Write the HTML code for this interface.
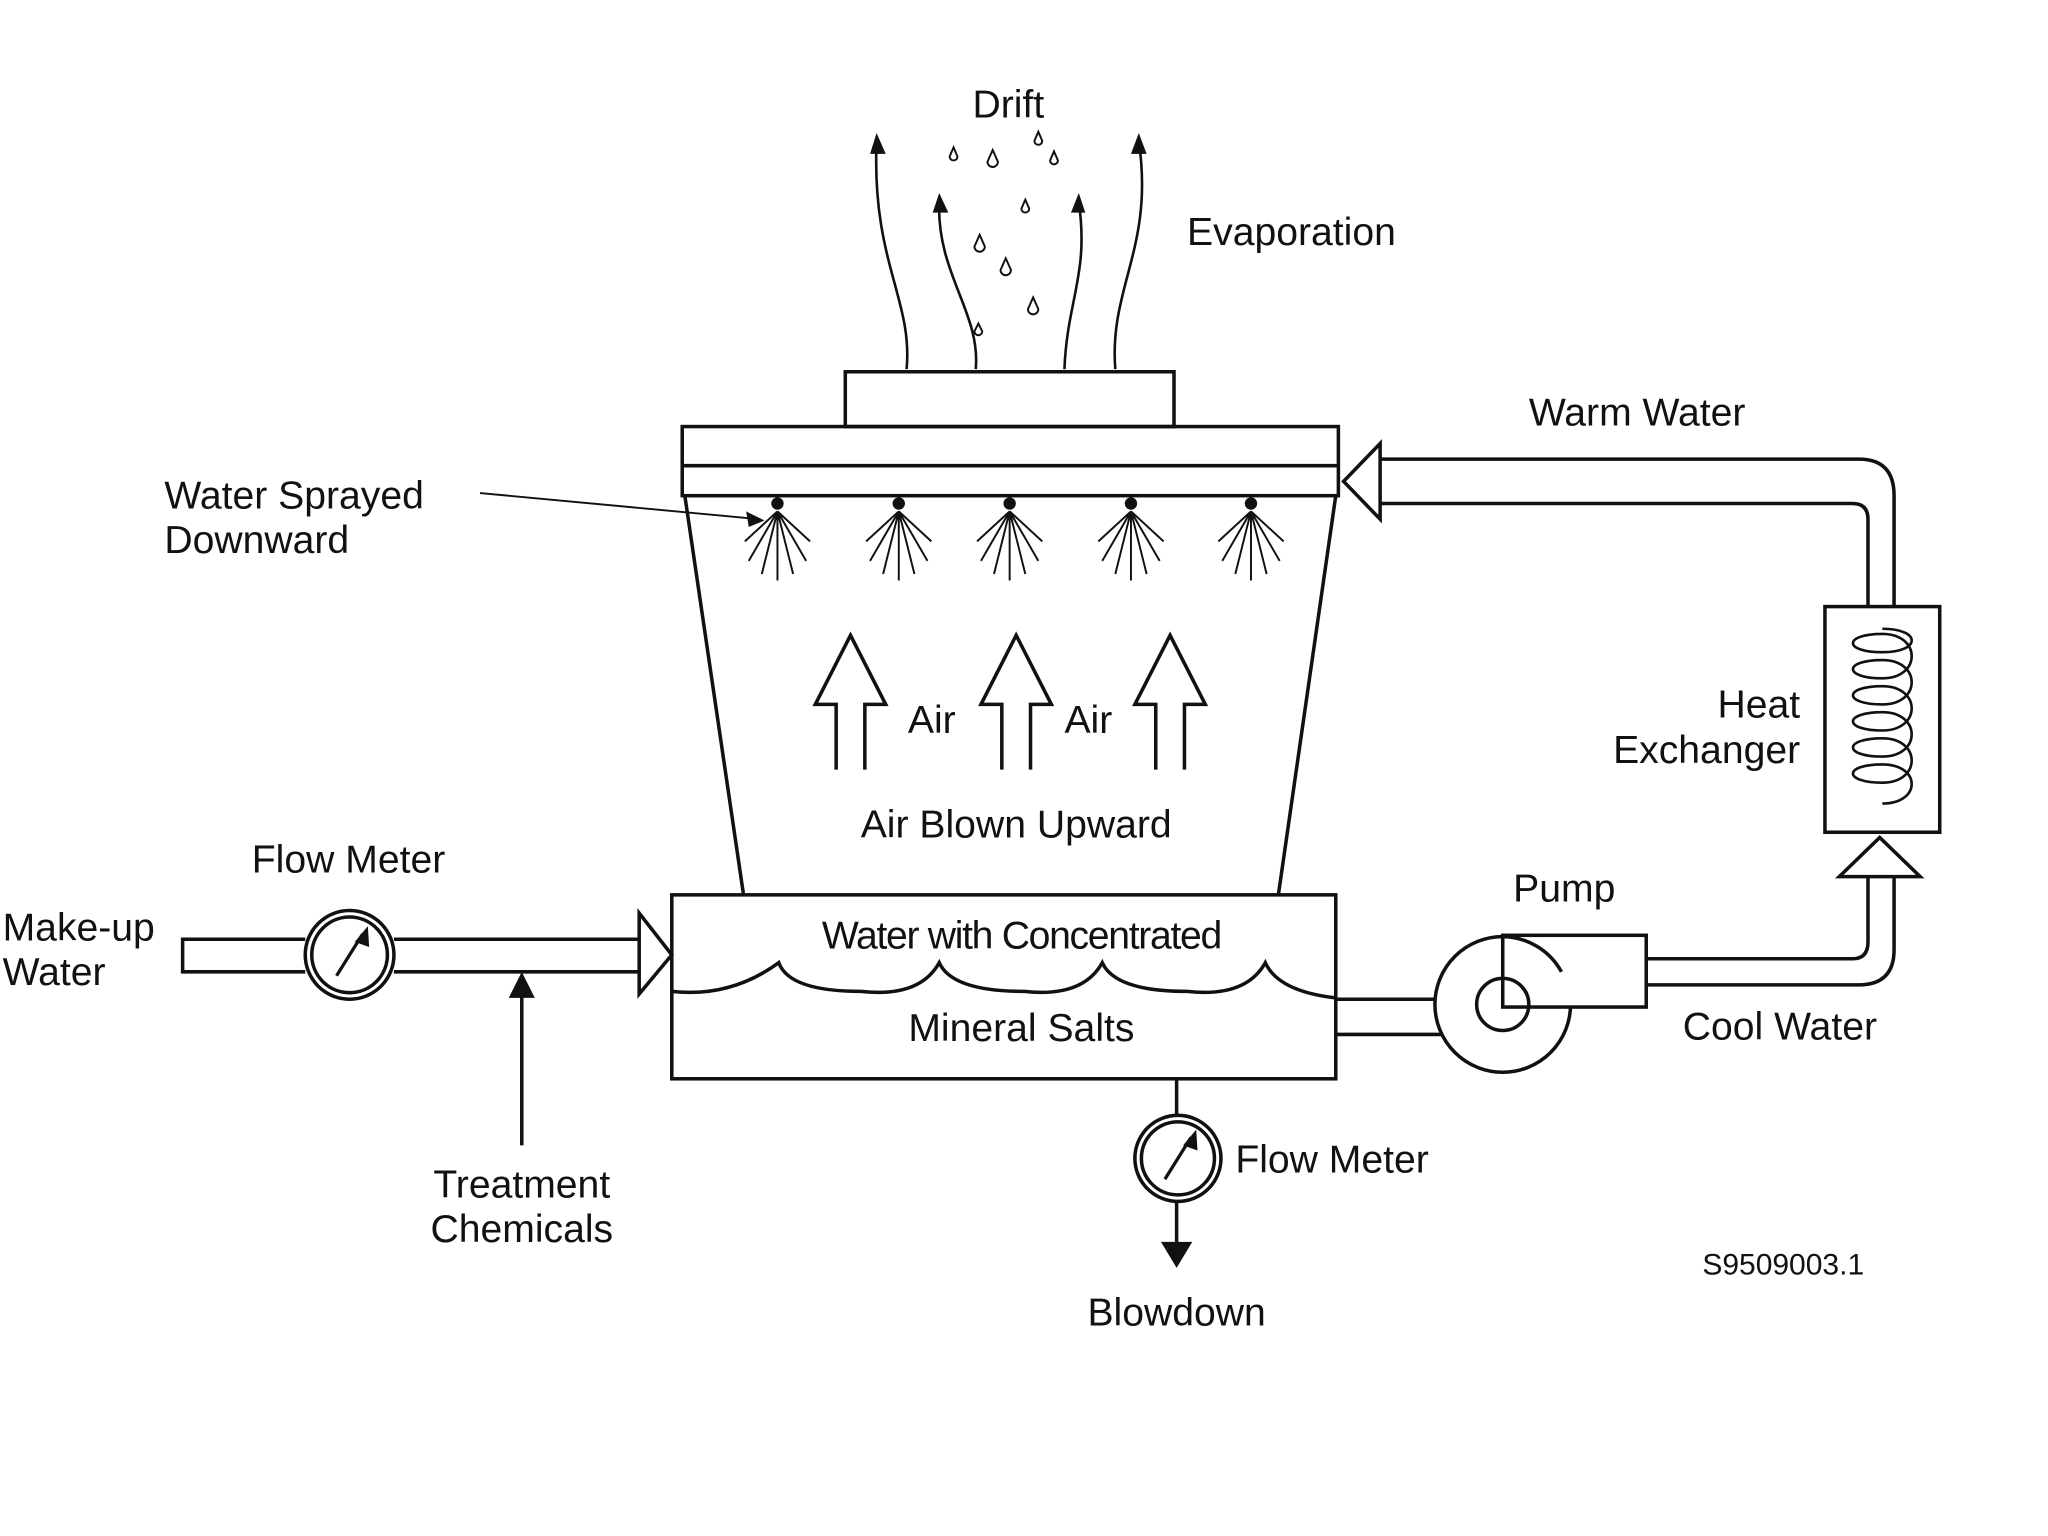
<!DOCTYPE html>
<html><head><style>html,body{margin:0;padding:0;background:#fff}svg{display:block}
text{font-family:"Liberation Sans",Arial,sans-serif;fill:#111}</style></head>
<body>
<svg width="2048" height="1536" viewBox="0 0 1570 1177.5" preserveAspectRatio="none" xmlns="http://www.w3.org/2000/svg">
<rect width="1570" height="1178" fill="#fff"/>
<g fill="none" stroke="#111" stroke-width="2.7">
<rect x="648" y="285" width="252" height="42"/>
<rect x="523" y="327" width="503" height="53"/>
<line x1="523" y1="357" x2="1026" y2="357"/>
<line x1="525" y1="380" x2="570" y2="686"/>
<line x1="1024" y1="380" x2="980" y2="686"/>
<rect x="515" y="686" width="509" height="141"/>
<path d="M515,760 Q560,765 597,738 Q605,760 660,760 Q705,765 720,738 Q730,760 785,760 Q830,765 845,738 Q855,760 910,760 Q955,765 970,738 Q980,760 1024,765"/>
<path d="M695,283 C700,230 668,200 672,108" stroke-width="2"/>
<path d="M748,283 C752,240 718,210 720,155" stroke-width="2"/>
<path d="M816,283 C818,230 835,210 827,155" stroke-width="2"/>
<path d="M855,283 C850,220 885,190 873,108" stroke-width="2"/>
<line x1="368" y1="378" x2="582" y2="398" stroke-width="1.5"/>
<path d="M641,590 V540 H625 L652,487 L679,540 H663 V590"/>
<path d="M768,590 V540 H752 L779,487 L806,540 H790 V590"/>
<path d="M886,590 V540 H870 L897,487 L924,540 H908 V590"/>
<path d="M1058,352 H1425 Q1452,352 1452,380 V465"/>
<path d="M1058,386 H1420 Q1432,386 1432,398 V465"/>
<path d="M1058,340 L1030,369 L1058,398 Z" fill="#fff"/>
<rect x="1399" y="465" width="88" height="173"/>
<path d="M1443,482 c30,0 30,18 0,18 c-30,0 -30,-14 0,-14 c30,0 30,34 0,34 c-30,0 -30,-14 0,-14 c30,0 30,34 0,34 c-30,0 -30,-14 0,-14 c30,0 30,34 0,34 c-30,0 -30,-14 0,-14 c30,0 30,34 0,34 c-30,0 -30,-14 0,-14 c30,0 30,34 0,34 c-30,0 -30,-14 0,-14 c30,0 30,30 0,30" stroke-width="2"/>
<path d="M1262,735 H1420 Q1432,735 1432,722 V672"/>
<path d="M1262,755 H1425 Q1452,755 1452,728 V672"/>
<path d="M1410,672 L1441,642 L1472,672 Z" fill="#fff"/>
<path d="M1024,766 H1105 M1024,793 H1105"/>
<circle cx="1152" cy="770" r="52" fill="#fff"/>
<rect x="1152" y="717" width="110" height="55" fill="#fff"/>
<path d="M1152,718 A52,52 0 0 1 1197,745"/>
<circle cx="1152" cy="770" r="20"/>
<path d="M490,720 H302 M234,720 H140 V745 H234 M302,745 H490"/>
<path d="M490,700 L515,732 L490,762 Z" fill="#fff"/>
<circle cx="268" cy="732" r="34" fill="#fff"/>
<circle cx="268" cy="732" r="29"/>
<line x1="258" y1="748" x2="278" y2="716" stroke-width="2.5"/>
<line x1="400" y1="878" x2="400" y2="760"/>
<line x1="902" y1="827" x2="902" y2="856"/>
<circle cx="903" cy="888" r="33" fill="#fff"/>
<circle cx="903" cy="888" r="28"/>
<line x1="893" y1="904" x2="913" y2="872" stroke-width="2.5"/>
<line x1="902" y1="921" x2="902" y2="955"/>
</g>
<g fill="#111">
<path d="M667,118 L672,102 L679,118 Z"/>
<path d="M715,163 L720,148 L727,163 Z"/>
<path d="M821,163 L827,148 L832,163 Z"/>
<path d="M867,118 L873,102 L879,118 Z"/>
<path d="M390,765 L400,745 L410,765 Z"/>
<path d="M890,952 L902,972 L914,952 Z"/>
<path d="M272,722 L282,710 L283,726 Z"/>
<path d="M907,878 L917,866 L918,882 Z"/>
<path d="M572,392 L586,399 L574,404 Z"/>
</g>
<g fill="none" stroke="#111" stroke-width="1.5">
<path d="M731,113 l-3,7 a3,3 0 1 0 6,0 z"/>
<path d="M761,115 l-4,9 a4,4 0 1 0 8,0 z"/>
<path d="M796,101 l-3,7 a3,3 0 1 0 6,0 z"/>
<path d="M808,116 l-3,7 a3,3 0 1 0 6,0 z"/>
<path d="M786,153 l-3,7 a3,3 0 1 0 6,0 z"/>
<path d="M751,180 l-4,9 a4,4 0 1 0 8,0 z"/>
<path d="M771,198 l-4,9 a4,4 0 1 0 8,0 z"/>
<path d="M792,228 l-4,9 a4,4 0 1 0 8,0 z"/>
<path d="M750,248 l-3,6 a3,3 0 1 0 6,0 z"/>
</g>
<g stroke="#111" stroke-width="1.5" fill="#111">
<g id="nz"><circle cx="596" cy="386" r="4"/>
<path d="M596,392 V445 M596,392 L584,440 M596,392 L608,440 M596,392 L574,430 M596,392 L618,430 M596,392 L571,415 M596,392 L621,415" fill="none"/></g>
<use href="#nz" x="93"/><use href="#nz" x="178"/><use href="#nz" x="271"/><use href="#nz" x="363"/>
</g>
<g font-size="30">
<text x="773" y="90" text-anchor="middle">Drift</text>
<text x="910" y="188">Evaporation</text>
<text x="1172" y="326">Warm Water</text>
<text x="126" y="390">Water Sprayed</text>
<text x="126" y="424">Downward</text>
<text x="696" y="562">Air</text>
<text x="816" y="562">Air</text>
<text x="779" y="642" text-anchor="middle">Air Blown Upward</text>
<text x="1380" y="550" text-anchor="end">Heat</text>
<text x="1380" y="585" text-anchor="end">Exchanger</text>
<text x="1160" y="691">Pump</text>
<text x="1290" y="797">Cool Water</text>
<text x="783" y="727" text-anchor="middle" letter-spacing="-1">Water with Concentrated</text>
<text x="783" y="798" text-anchor="middle">Mineral Salts</text>
<text x="193" y="669">Flow Meter</text>
<text x="2" y="721">Make-up</text>
<text x="2" y="755">Water</text>
<text x="400" y="918" text-anchor="middle">Treatment</text>
<text x="400" y="952" text-anchor="middle">Chemicals</text>
<text x="947" y="899">Flow Meter</text>
<text x="902" y="1016" text-anchor="middle">Blowdown</text>
<text x="1305" y="977" font-size="23">S9509003.1</text>
</g>
</svg>
</body></html>
